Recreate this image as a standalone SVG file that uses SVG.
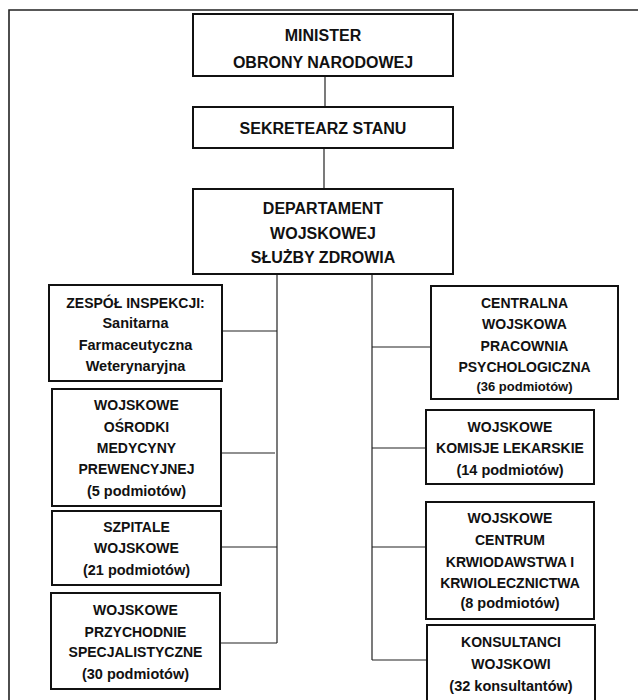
<svg xmlns="http://www.w3.org/2000/svg" width="638" height="700" viewBox="0 0 638 700">
<style>
.box{fill:#fff;stroke:#111;stroke-width:2}
.ln{stroke:#222;stroke-width:1.2;fill:none}
.frame{stroke:#222;stroke-width:1.6;fill:none}
text{font-family:"Liberation Sans",Arial,sans-serif;font-weight:bold;fill:#111;text-anchor:middle}
.big{font-size:16px}
.sm{font-size:14px}
.lc{font-size:14.5px}
.xs{font-size:13px}
</style>
<rect width="638" height="700" fill="#fff"/>
<path class="frame" d="M9,700 V10 H638"/>
<g id="connectors">
<line class="ln" x1="325" y1="76" x2="325" y2="107"/>
<line class="ln" x1="324" y1="148" x2="324" y2="189"/>
<line class="ln" x1="277" y1="274" x2="277" y2="643"/>
<line class="ln" x1="372" y1="274" x2="372" y2="660"/>
<line class="ln" x1="222" y1="331" x2="277" y2="331"/>
<line class="ln" x1="218" y1="453" x2="275" y2="453"/>
<line class="ln" x1="221" y1="547" x2="277" y2="547"/>
<line class="ln" x1="220" y1="643" x2="277" y2="643"/>
<line class="ln" x1="372" y1="347" x2="431" y2="347"/>
<line class="ln" x1="372" y1="448" x2="426" y2="448"/>
<line class="ln" x1="372" y1="547" x2="426" y2="547"/>
<line class="ln" x1="372" y1="660" x2="427" y2="660"/>
</g>
<g id="minister">
<rect class="box" x="193" y="14" width="260" height="62"/>
<text class="big" x="323" y="41">MINISTER</text>
<text class="big" x="323" y="68">OBRONY NARODOWEJ</text>
</g>
<g id="sekretarz">
<rect class="box" x="193" y="107" width="260" height="41"/>
<text class="big" x="323" y="134">SEKRETEARZ STANU</text>
</g>
<g id="departament">
<rect class="box" x="193" y="189" width="260" height="85"/>
<text class="big" x="323" y="214">DEPARTAMENT</text>
<text class="big" x="323" y="239">WOJSKOWEJ</text>
<text class="big" x="323" y="263">SŁUŻBY ZDROWIA</text>
</g>
<g id="zespol">
<rect class="box" x="49" y="285" width="173" height="96"/>
<text class="sm" x="135.5" y="308">ZESPÓŁ INSPEKCJI:</text>
<text class="lc" x="135.5" y="328">Sanitarna</text>
<text class="lc" x="135.5" y="350">Farmaceutyczna</text>
<text class="lc" x="135.5" y="371">Weterynaryjna</text>
</g>
<g id="osrodki">
<rect class="box" x="52" y="389" width="169" height="117"/>
<text class="sm" x="136.5" y="410">WOJSKOWE</text>
<text class="sm" x="136.5" y="432">OŚRODKI</text>
<text class="sm" x="136.5" y="453">MEDYCYNY</text>
<text class="sm" x="136.5" y="474">PREWENCYJNEJ</text>
<text class="lc" x="136.5" y="496">(5 podmiotów)</text>
</g>
<g id="szpitale">
<rect class="box" x="52" y="511" width="169" height="74"/>
<text class="sm" x="136.5" y="532">SZPITALE</text>
<text class="sm" x="136.5" y="553">WOJSKOWE</text>
<text class="lc" x="136.5" y="575">(21 podmiotów)</text>
</g>
<g id="przychodnie">
<rect class="box" x="51" y="593" width="169" height="96"/>
<text class="sm" x="135.5" y="615">WOJSKOWE</text>
<text class="sm" x="135.5" y="637">PRZYCHODNIE</text>
<text class="sm" x="135.5" y="657">SPECJALISTYCZNE</text>
<text class="lc" x="135.5" y="679">(30 podmiotów)</text>
</g>
<g id="pracownia">
<rect class="box" x="431" y="286" width="187" height="113"/>
<text class="sm" x="524.5" y="308">CENTRALNA</text>
<text class="sm" x="524.5" y="329">WOJSKOWA</text>
<text class="sm" x="524.5" y="351">PRACOWNIA</text>
<text class="sm" x="524.5" y="372">PSYCHOLOGICZNA</text>
<text class="xs" x="524.5" y="391">(36 podmiotów)</text>
</g>
<g id="komisje">
<rect class="box" x="426" y="410" width="168" height="74"/>
<text class="sm" x="510" y="432">WOJSKOWE</text>
<text class="sm" x="510" y="453">KOMISJE LEKARSKIE</text>
<text class="lc" x="510" y="475">(14 podmiotów)</text>
</g>
<g id="krwiodawstwo">
<rect class="box" x="426" y="502" width="168" height="117"/>
<text class="sm" x="510" y="523">WOJSKOWE</text>
<text class="sm" x="510" y="545">CENTRUM</text>
<text class="sm" x="510" y="567">KRWIODAWSTWA I</text>
<text class="sm" x="510" y="588">KRWIOLECZNICTWA</text>
<text class="lc" x="510" y="608">(8 podmiotów)</text>
</g>
<g id="konsultanci">
<rect class="box" x="427" y="625" width="168" height="80"/>
<text class="sm" x="511" y="647">KONSULTANCI</text>
<text class="sm" x="511" y="669">WOJSKOWI</text>
<text class="lc" x="511" y="691">(32 konsultantów)</text>
</g>
</svg>
